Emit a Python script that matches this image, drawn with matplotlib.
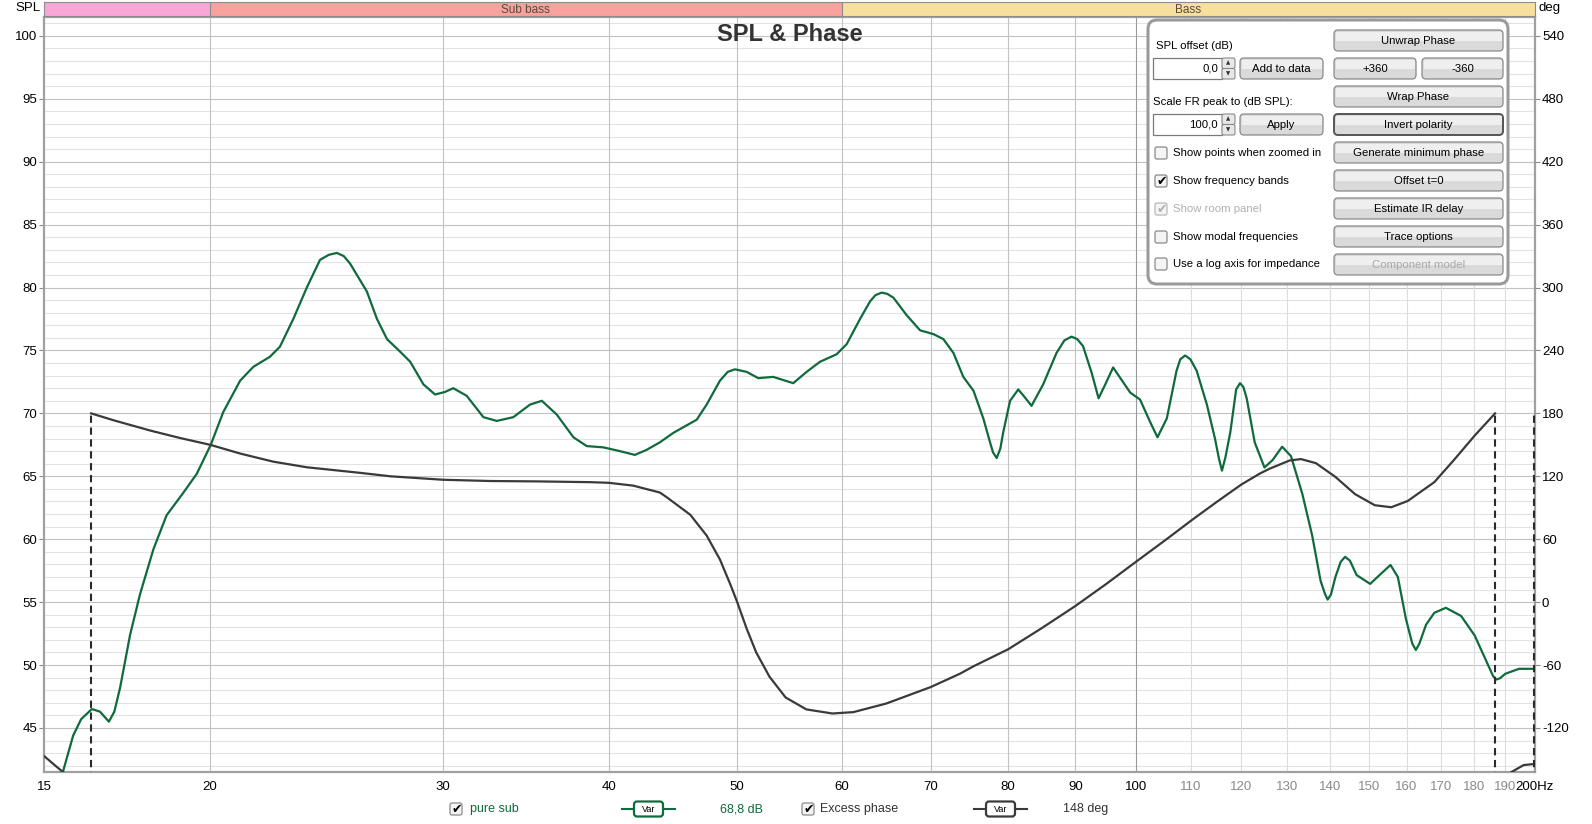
import numpy as np
import matplotlib
matplotlib.use("Agg")
import matplotlib.pyplot as plt
from matplotlib.patches import FancyBboxPatch, Rectangle

plt.rcParams['font.family'] = ['Liberation Sans', 'DejaVu Sans']
plt.rcParams['axes.unicode_minus'] = False

# ---------------- data ----------------
spl_freq = [15.30, 15.50, 15.78, 16.00, 16.30, 16.53, 16.79, 16.95, 17.12, 17.42, 17.72, 18.14,
            18.56, 19.11, 19.56, 20.04, 20.48, 21.09, 21.58, 22.21, 22.60, 23.13, 23.68, 24.23,
            24.60, 24.95, 25.25, 25.53, 26.28, 26.75, 27.22, 27.85, 28.34, 29.00, 29.59, 30.10,
            30.54, 31.26, 32.18, 32.94, 33.90, 34.90, 35.62, 36.56, 37.63, 38.51, 39.64, 40.79,
            41.87, 42.73, 43.73, 44.76, 46.62, 47.43, 48.54, 49.20, 49.82, 50.84, 51.88, 53.24,
            55.13, 56.43, 57.75, 59.45, 60.49, 61.91, 63.00, 63.60, 64.29, 64.90, 65.60, 67.14,
            68.72, 70.33, 71.56, 72.82, 74.08, 75.40, 76.70, 77.60, 78.00, 78.50, 79.00, 79.40,
            80.35, 81.50, 82.40, 83.40, 85.10, 87.10, 88.30, 89.40, 90.30, 91.20, 92.60, 93.70,
            94.80, 96.10, 97.60, 99.00, 100.7, 102.5, 103.8, 105.5, 107.3, 108.0, 108.9, 109.9,
            111.1, 113.1, 114.7, 115.5, 116.1, 116.8, 117.8, 119.0, 119.8, 120.5, 121.2, 122.9,
            125.0, 126.8, 128.9, 130.9, 133.5, 135.8, 137.8, 138.8, 139.5, 140.3, 141.4, 142.7,
            143.8, 145.0, 146.7, 150.2, 153.2, 155.6, 157.6, 159.8, 161.6, 162.6, 163.6, 165.5,
            167.9, 171.3, 175.9, 180.1, 183.8, 186.0, 187.1, 188.2, 189.9, 194.5, 200.0]
spl_db = [39.5, 41.5, 44.4, 45.7, 46.5, 46.3, 45.5, 46.3, 48.2, 52.4, 55.6, 59.2,
          61.9, 63.7, 65.2, 67.5, 70.1, 72.6, 73.7, 74.5, 75.3, 77.5, 80.0, 82.2,
          82.6, 82.75, 82.5, 81.9, 79.7, 77.5, 75.9, 74.9, 74.1, 72.3, 71.5, 71.7,
          72.0, 71.4, 69.7, 69.4, 69.7, 70.7, 71.0, 69.9, 68.1, 67.4, 67.3, 67.0,
          66.7, 67.1, 67.7, 68.45, 69.5, 70.7, 72.6, 73.3, 73.5, 73.3, 72.8, 72.9,
          72.4, 73.3, 74.1, 74.7, 75.5, 77.5, 78.9, 79.4, 79.6, 79.5, 79.2, 77.8,
          76.6, 76.3, 75.9, 74.8, 72.9, 71.8, 69.6, 67.7, 66.9, 66.45, 67.2, 68.5,
          71.0, 71.9, 71.3, 70.6, 72.3, 74.8, 75.8, 76.1, 75.9, 75.35, 73.2, 71.2,
          72.3, 73.65, 72.6, 71.65, 71.1, 69.3, 68.1, 69.6, 73.4, 74.3, 74.6, 74.3,
          73.4, 70.7, 68.0, 66.4, 65.45, 66.5, 68.5, 71.9, 72.4, 72.1, 71.2, 67.7,
          65.7, 66.3, 67.35, 66.6, 63.6, 60.3, 56.7, 55.7, 55.2, 55.6, 57.0, 58.2,
          58.6, 58.3, 57.15, 56.45, 57.3, 57.95, 57.0, 53.7, 51.7, 51.2, 51.7, 53.2,
          54.15, 54.55, 53.9, 52.35, 50.3, 49.1, 48.85, 48.95, 49.3, 49.7, 49.7]

phase_low_freq = [15.0, 15.25, 15.5, 15.9, 16.28]
phase_low_deg = [-146.7, -154.5, -162.0, -172.0, -180.0]

phase_main_freq = [16.28, 16.92, 18.03, 19.0, 20.04, 21.09, 22.33, 23.68, 25.97, 27.38, 30.0,
                   32.56, 35.51, 38.73, 40.0, 41.75, 43.73, 44.3, 46.1, 47.43, 48.54, 49.4, 50.0,
                   50.84, 51.7, 52.9, 54.4, 56.4, 59.0, 61.2, 64.8, 70.0, 73.67, 75.4, 80.1,
                   84.8, 90.0, 95.0, 100.1, 105.5, 110.2, 115.3, 120.1, 124.0, 126.1, 130.6,
                   133.2, 136.7, 141.4, 146.3, 151.4, 155.8, 160.3, 167.9, 173.8, 180.1, 186.6]
phase_main_deg = [180.0, 173.5, 163.7, 156.5, 149.9, 141.7, 134.0, 128.6, 123.3, 120.0, 116.7,
                  115.5, 115.1, 114.4, 113.8, 111.1, 104.5, 99.6, 83.3, 63.5, 40.6, 17.5, 0.5,
                  -25.2, -48.1, -71.1, -90.9, -102.3, -106.2, -104.9, -96.7, -81.0, -68.2, -61.2, -44.9,
                  -25.2, -3.7, 17.5, 38.9, 60.2, 78.3, 96.4, 112.2, 122.6, 127.2, 135.1,
                  136.4, 132.5, 119.4, 103.0, 92.4, 90.5, 96.4, 114.4, 135.8, 158.8, 180.0]

phase_high_freq = [186.6, 189.0, 192.0, 196.1, 199.6]
phase_high_deg = [-180.0, -170.0, -162.0, -155.4, -154.4]

wrap_freq = [16.28, 186.6, 199.6]

band_edges = [15, 20, 60, 200]
band_names = ['', 'Sub bass', 'Bass']
band_colors = ['#f9a6d6', '#f8a19d', '#f7df9c']

xtick_major = [15, 20, 30, 40, 50, 60, 70, 80, 90, 100, 200]
xtick_major_labels = ['15', '20', '30', '40', '50', '60', '70', '80', '90', '100', '200Hz']
xtick_minor = [110, 120, 130, 140, 150, 160, 170, 180, 190]
spl_ticks = list(range(45, 101, 5))
phase_ticks = list(range(-120, 541, 60))

trace_names = ['pure sub', 'Excess phase']
trace_values = ['68,8 dB', '148 deg']

GREEN = '#0f6a3c'
DARK = '#3a3a3a'

# ---------------- figure ----------------
W, H = 1592, 824
fig = plt.figure(figsize=(W / 100, H / 100), dpi=100)
fig.patch.set_facecolor('white')

L, R, T, B = 44, 1535, 17, 772
ax = fig.add_axes([L / W, 1 - B / H, (R - L) / W, (B - T) / H])
ax.set_xscale('log')
ax.set_xlim(15, 200)
ax.set_ylim(41.5, 101.5)

# grid
for v in range(42, 102):
    ax.axhline(v, color='#c2c2c2' if v % 5 == 0 else '#e3e3e3', lw=0.8, zorder=0)
for f in xtick_major[1:-1]:
    ax.axvline(f, color='#9a9a9a' if f == 100 else '#c2c2c2', lw=0.8, zorder=0.5)
for f in xtick_minor:
    ax.axvline(f, color='#dcdcdc', lw=0.8, zorder=0.5)

ax.set_xticks(xtick_major, labels=xtick_major_labels)
ax.set_xticks(xtick_minor, labels=[str(f) for f in xtick_minor], minor=True)
ax.tick_params(axis='x', which='both', length=0, pad=6.5, labelsize=9.5)
ax.tick_params(axis='x', which='minor', labelcolor='#8a8a8a')
ax.set_yticks(spl_ticks)
ax.set_yticks([], minor=True)
ax.tick_params(axis='y', which='major', length=3.5, width=0.8, color='#8a8a8a', pad=1.5, labelsize=9.5)

for s in ax.spines.values():
    s.set_color('#a0a0a0')
    s.set_linewidth(1.6)

ax.plot(spl_freq, spl_db, color=GREEN, lw=1.6, zorder=3, solid_joinstyle='round')

ax2 = ax.twinx()
ax2.set_ylim(-162, 558)
ax2.set_yticks(phase_ticks)
ax2.tick_params(axis='y', length=3.5, width=0.8, color='#8a8a8a', pad=1.5, labelsize=9.5)
for s in ax2.spines.values():
    s.set_visible(False)
ax2.plot(phase_low_freq, phase_low_deg, color=DARK, lw=1.6, solid_joinstyle='round')
ax2.plot(phase_main_freq, phase_main_deg, color=DARK, lw=1.6, solid_joinstyle='round')
ax2.plot(phase_high_freq, phase_high_deg, color=DARK, lw=1.6, solid_joinstyle='round')
for f in wrap_freq:
    ax2.plot([f, f], [-180, 180], color='#2a2a2a', lw=1.5, linestyle=(0, (3.5, 2.2)))

# frequency band bar
axb = fig.add_axes([L / W, 1 - 16 / H, (R - L) / W, 14 / H])
axb.set_xscale('log')
axb.set_xlim(15, 200)
axb.set_ylim(0, 1)
for i, name in enumerate(band_names):
    axb.axvspan(band_edges[i], band_edges[i + 1], color=band_colors[i], lw=0)
    if i > 0:
        axb.axvline(band_edges[i], color='#8c8c8c', lw=0.8)
    if name:
        xm = np.sqrt(band_edges[i] * band_edges[i + 1])
        axb.text(xm, 0.45, name, ha='center', va='center', fontsize=8.5, color='#5a4a40')
axb.set_xticks([])
axb.set_yticks([])
axb.minorticks_off()
for s in axb.spines.values():
    s.set_color('#8c8c8c')
    s.set_linewidth(0.8)

# ---------------- overlay (panel, labels, legend) ----------------
ov = fig.add_axes([0, 0, 1, 1], zorder=10)
ov.set_xlim(0, W)
ov.set_ylim(H, 0)
ov.axis('off')
ov.patch.set_visible(False)

ov.text(28, 8, 'SPL', ha='center', va='center', fontsize=9.5)
ov.text(1550, 8, 'deg', ha='center', va='center', fontsize=9.5)
ov.text((L + R) / 2, 34, 'SPL & Phase', ha='center', va='center', fontsize=17,
        fontweight='bold', color='#333333')


def rbox(x0, y0, x1, y1, fc, ec, lw=1.0, r=3, z=11):
    p = FancyBboxPatch((x0, y0), x1 - x0, y1 - y0,
                       boxstyle=f"round,pad=0,rounding_size={r}",
                       fc=fc, ec=ec, lw=lw, zorder=z)
    ov.add_patch(p)


def button(x0, y0, x1, y1, label, enabled=True, pressed=False):
    rbox(x0, y0, x1, y1, '#dadada', '#555555' if pressed else '#8a8a8a',
         lw=1.4 if pressed else 0.9, r=4)
    ov.add_patch(Rectangle((x0 + 1.5, y0 + 1.5), x1 - x0 - 3, (y1 - y0) / 2 - 1,
                           fc='#efefef', ec='none', zorder=11.5))
    ov.text((x0 + x1) / 2, (y0 + y1) / 2, label, ha='center', va='center', fontsize=8.2,
            color='black' if enabled else '#a8a8a8', zorder=12)


def checkbox(x0, yc, checked, enabled=True, size=12):
    rbox(x0, yc - size / 2, x0 + size, yc + size / 2, '#f4f4f4',
         '#8a8a8a' if enabled else '#b8b8b8', lw=0.9, r=2)
    if checked:
        ov.text(x0 + size / 2 + 0.5, yc, '\u2714', ha='center', va='center', fontsize=9,
                color='black' if enabled else '#b0b0b0', family='DejaVu Sans', zorder=12)


def spinner(x0, y0, x1, y1, value):
    ov.add_patch(Rectangle((x0, y0), x1 - x0, y1 - y0, fc='white', ec='#7a7a7a', lw=0.9, zorder=11))
    ov.text(x1 - 4, (y0 + y1) / 2, value, ha='right', va='center', fontsize=8.2, zorder=12)
    ym = (y0 + y1) / 2
    rbox(x1, y0, x1 + 13, ym, '#e8e8e8', '#8a8a8a', lw=0.8, r=2)
    rbox(x1, ym, x1 + 13, y1, '#e8e8e8', '#8a8a8a', lw=0.8, r=2)
    ov.text(x1 + 6.5, (y0 + ym) / 2, '\u25b2', ha='center', va='center', fontsize=4,
            family='DejaVu Sans', color='#333', zorder=12)
    ov.text(x1 + 6.5, (ym + y1) / 2, '\u25bc', ha='center', va='center', fontsize=4,
            family='DejaVu Sans', color='#333', zorder=12)


# control panel
rbox(1148, 20, 1508, 284, 'white', '#9a9a9a', lw=2.2, r=9, z=10.5)
ov.text(1156, 46, 'SPL offset (dB)', ha='left', va='center', fontsize=8.2, zorder=12)
spinner(1153, 58, 1222, 79, '0,0')
button(1240, 58, 1323, 79, 'Add to data')
ov.text(1153, 102, 'Scale FR peak to (dB SPL):', ha='left', va='center', fontsize=8.2, zorder=12)
spinner(1153, 114, 1222, 135, '100,0')
button(1240, 114, 1323, 135, 'Apply')

checks = [('Show points when zoomed in', False, True, 153),
          ('Show frequency bands', True, True, 181),
          ('Show room panel', True, False, 209),
          ('Show modal frequencies', False, True, 237),
          ('Use a log axis for impedance', False, True, 264)]
for label, chk, en, yc in checks:
    checkbox(1155, yc, chk, en)
    ov.text(1173, yc, label, ha='left', va='center', fontsize=8.2,
            color='black' if en else '#b0b0b0', zorder=12)

button(1334, 30, 1503, 51, 'Unwrap Phase')
button(1334, 58, 1416, 79, '+360')
button(1422, 58, 1503, 79, '-360')
button(1334, 86, 1503, 107, 'Wrap Phase')
button(1334, 114, 1503, 135, 'Invert polarity', pressed=True)
button(1334, 142, 1503, 163, 'Generate minimum phase')
button(1334, 170, 1503, 191, 'Offset t=0')
button(1334, 198, 1503, 219, 'Estimate IR delay')
button(1334, 226, 1503, 247, 'Trace options')
button(1334, 254, 1503, 275, 'Component model', enabled=False)


# bottom legend
def var_box(x0, x1, color):
    yc = 809
    ov.plot([x0, x1], [yc, yc], color=color, lw=1.5, zorder=11)
    bx0, bx1 = x0 + 12, x1 - 12
    rbox(bx0, yc - 7.5, bx1, yc + 7.5, 'white', color, lw=1.6, r=3)
    ov.text((bx0 + bx1) / 2, yc + 0.5, 'Var', ha='center', va='center', fontsize=6.5, zorder=12)


legend_layout = [(450, 470, 622, 675, 742, GREEN, GREEN),
                 (802, 820, 974, 1027, 1086, DARK, '#333333')]
for (cbx, tx, v0, v1, vx, lc, tc), name, val in zip(legend_layout, trace_names, trace_values):
    checkbox(cbx, 809, True)
    ov.text(tx, 809, name, ha='left', va='center', fontsize=9, color=tc, zorder=12)
    var_box(v0, v1, lc)
    ov.text(vx, 809, val, ha='center', va='center', fontsize=9, color=tc, zorder=12)

fig.savefig('out.png', dpi=100, facecolor='white')
